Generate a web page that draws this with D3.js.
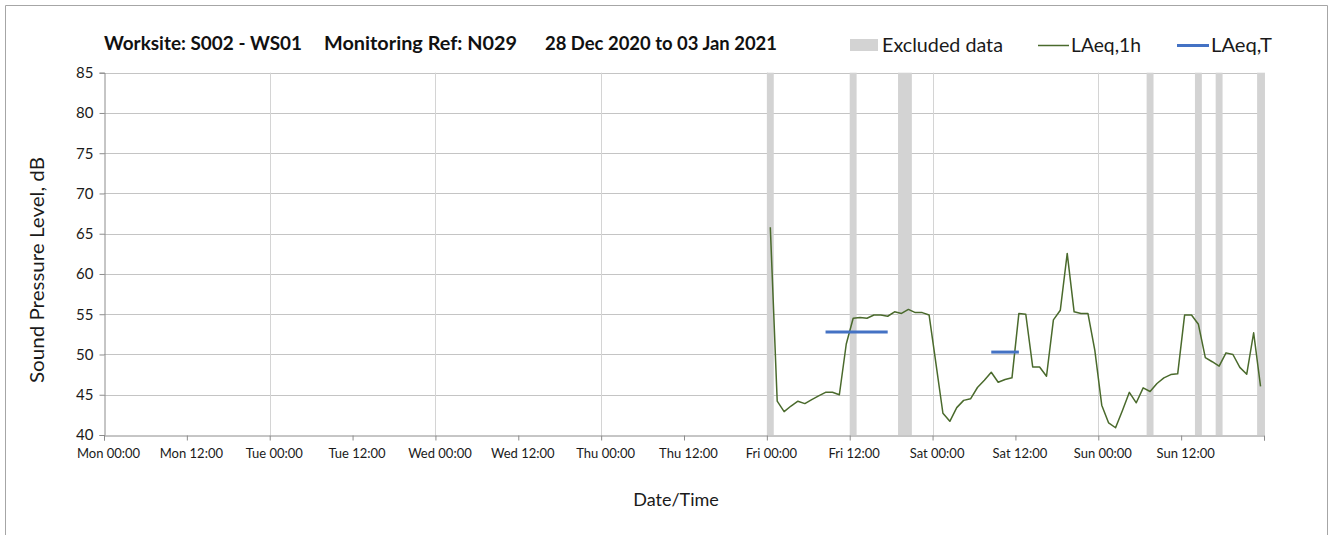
<!DOCTYPE html>
<html>
<head>
<meta charset="utf-8">
<script src="https://cdn.jsdelivr.net/npm/d3@7"></script>
<style>
  html, body { margin: 0; padding: 0; background: #fff; }
  svg { display: block; font-family: Lato, "Open Sans", sans-serif; }
</style>
</head>
<body>
<svg id="chart" width="1334" height="535"></svg>
<script>
// ---- Data ----
const titleParts = ["Worksite: S002 - WS01", "Monitoring Ref: N029", "28 Dec 2020 to 03 Jan 2021"];
const xTickLabels = ["Mon 00:00", "Mon 12:00", "Tue 00:00", "Tue 12:00", "Wed 00:00", "Wed 12:00",
                     "Thu 00:00", "Thu 12:00", "Fri 00:00", "Fri 12:00", "Sat 00:00", "Sat 12:00",
                     "Sun 00:00", "Sun 12:00"];
const yTicks = [40, 45, 50, 55, 60, 65, 70, 75, 80, 85];
const dayStarts = ["2021-01-01T00:00:00Z", "2021-01-02T00:00:00Z", "2021-01-03T00:00:00Z"];
// hourly LAeq,1h values (plotted at mid-hour), Fri / Sat / Sun
const friValues = [65.8, 44.2, 42.9, 43.6, 44.2, 43.9, 44.4, 44.85, 45.3, 45.3, 45.0, 51.3,
                   54.5, 54.6, 54.5, 54.9, 54.9, 54.75, 55.3, 55.1, 55.6, 55.2, 55.2, 54.9];
const satValues = [48.8, 42.7, 41.7, 43.4, 44.3, 44.5, 45.9, 46.8, 47.8, 46.55, 46.9, 47.1,
                   55.1, 55.0, 48.45, 48.45, 47.3, 54.3, 55.5, 62.55, 55.3, 55.1, 55.1, 50.5];
const sunValues = [43.7, 41.5, 40.9, 43.05, 45.3, 44.0, 45.85, 45.4, 46.4, 47.1, 47.5, 47.6,
                   54.9, 54.9, 53.75, 49.6, 49.1, 48.55, 50.2, 50.0, 48.4, 47.55, 52.7, 46.05];
// excluded data periods [start, end]
const excludedStarts = ["2021-01-01T00:00:00Z", "2021-01-01T12:00:00Z", "2021-01-01T19:00:00Z",
                        "2021-01-03T07:00:00Z", "2021-01-03T14:00:00Z", "2021-01-03T17:00:00Z",
                        "2021-01-03T23:00:00Z"];
const excludedEnds   = ["2021-01-01T01:00:00Z", "2021-01-01T13:00:00Z", "2021-01-01T21:00:00Z",
                        "2021-01-03T08:00:00Z", "2021-01-03T15:00:00Z", "2021-01-03T18:00:00Z",
                        "2021-01-04T00:00:00Z"];
// LAeq,T periods
const laeqTStarts = ["2021-01-01T08:30:00Z", "2021-01-02T08:30:00Z"];
const laeqTEnds   = ["2021-01-01T17:30:00Z", "2021-01-02T12:30:00Z"];
const laeqTValues = [52.8, 50.3];

// ---- Build ----
const svg = d3.select("#chart");
const W = 1334, H = 535;
const plot = { left: 104, right: 1264, top: 72.7, bottom: 435 };

const x = d3.scaleUtc()
  .domain([new Date("2020-12-28T00:00:00Z"), new Date("2021-01-04T00:00:00Z")])
  .range([plot.left, plot.right]);
const y = d3.scaleLinear().domain([40, 85]).range([plot.bottom, plot.top]);

const series = [];
[friValues, satValues, sunValues].forEach((vals, d) => {
  const start = new Date(dayStarts[d]);
  vals.forEach((v, i) => series.push({ t: d3.utcMinute.offset(d3.utcHour.offset(start, i), 30), v }));
});

// border
svg.append("path")
  .attr("d", `M5.5,${H} V5.5 H1327.5 V${H}`)
  .attr("fill", "none").attr("stroke", "#a6a6a6").attr("stroke-width", 1);

// gridlines horizontal
const grid = svg.append("g");
grid.selectAll("line.h").data(yTicks.filter(t => t > 40)).enter().append("line")
  .attr("x1", plot.left).attr("x2", plot.right)
  .attr("y1", d => Math.round(y(d)) + 0.5).attr("y2", d => Math.round(y(d)) + 0.5)
  .attr("stroke", "#c4c4c4").attr("stroke-width", 1);
// gridlines vertical (each day)
const dayTicks = d3.utcDay.range(new Date("2020-12-29T00:00:00Z"), new Date("2021-01-04T00:00:01Z"));
grid.selectAll("line.v").data(dayTicks).enter().append("line")
  .attr("x1", d => Math.round(x(d)) + 0.5).attr("x2", d => Math.round(x(d)) + 0.5)
  .attr("y1", plot.top).attr("y2", plot.bottom)
  .attr("stroke", "#d4d4d4").attr("stroke-width", 1);

// excluded bands
svg.append("g").selectAll("rect").data(excludedStarts.map((s, i) => [new Date(s), new Date(excludedEnds[i])]))
  .enter().append("rect")
  .attr("x", d => x(d[0])).attr("width", d => x(d[1]) - x(d[0]))
  .attr("y", plot.top).attr("height", plot.bottom - plot.top)
  .attr("fill", "#d3d3d3");

// y axis
const yAxis = d3.axisLeft(y).tickValues(yTicks).tickSize(5).tickPadding(6).tickFormat(d3.format("d"));
const gy = svg.append("g").attr("transform", `translate(${plot.left + 0.5},0)`).call(yAxis);
gy.select(".domain").attr("stroke", "#8c8c8c");
gy.selectAll(".tick line").attr("stroke", "#8c8c8c");
gy.selectAll(".tick text").attr("font-size", 15).attr("font-family", "Lato").attr("fill", "#1a1a1a");

// x axis
const xTickDates = d3.utcHour.every(12).range(new Date("2020-12-28T00:00:00Z"), new Date("2021-01-04T00:00:01Z"));
const xAxis = d3.axisBottom(x).tickValues(xTickDates).tickSize(5).tickPadding(8)
  .tickFormat((d, i) => xTickLabels[i] || "");
const gx = svg.append("g").attr("transform", `translate(0,${Math.round(plot.bottom) + 0.5})`).call(xAxis);
gx.select(".domain").attr("stroke", "#8c8c8c");
gx.selectAll(".tick line").attr("stroke", "#8c8c8c");
gx.selectAll(".tick text").attr("font-size", 13).attr("font-family", "Lato").attr("fill", "#1a1a1a")
  .attr("dx", 4);

// LAeq,1h line
svg.append("path").datum(series)
  .attr("d", d3.line().x(d => x(d.t)).y(d => y(d.v)))
  .attr("fill", "none").attr("stroke", "#4a6a2c").attr("stroke-width", 1.5)
  .attr("stroke-linejoin", "round");

// LAeq,T lines
svg.append("g").selectAll("line").data(laeqTValues.map((v, i) => ({ s: new Date(laeqTStarts[i]), e: new Date(laeqTEnds[i]), v })))
  .enter().append("line")
  .attr("x1", d => x(d.s)).attr("x2", d => x(d.e))
  .attr("y1", d => y(d.v)).attr("y2", d => y(d.v))
  .attr("stroke", "#4472c4").attr("stroke-width", 3);

// title
const titleX = [104, 324, 545], titleW = [198, 193, 232];
titleParts.forEach((t, i) => {
  svg.append("text").attr("x", titleX[i]).attr("y", 50)
    .attr("font-size", 18).attr("font-weight", "bold").attr("fill", "#111")
    .attr("textLength", titleW[i]).attr("lengthAdjust", "spacingAndGlyphs")
    .text(t);
});

// axis titles
svg.append("text").attr("transform", `translate(44,270) rotate(-90)`)
  .attr("text-anchor", "middle").attr("font-size", 19).attr("fill", "#1a1a1a")
  .attr("textLength", 226).attr("lengthAdjust", "spacingAndGlyphs")
  .text("Sound Pressure Level, dB");
svg.append("text").attr("x", 676).attr("y", 506)
  .attr("text-anchor", "middle").attr("font-size", 18).attr("fill", "#1a1a1a")
  .text("Date/Time");

// legend
const lg = svg.append("g").attr("font-size", 19).attr("fill", "#1a1a1a");
lg.append("rect").attr("x", 850).attr("y", 39).attr("width", 28).attr("height", 12).attr("fill", "#d3d3d3");
lg.append("text").attr("x", 882).attr("y", 52).attr("textLength", 121).attr("lengthAdjust", "spacingAndGlyphs").text("Excluded data");
lg.append("line").attr("x1", 1038).attr("x2", 1069).attr("y1", 45.5).attr("y2", 45.5)
  .attr("stroke", "#4a6a2c").attr("stroke-width", 1.5);
lg.append("text").attr("x", 1071).attr("y", 52).attr("textLength", 70).attr("lengthAdjust", "spacingAndGlyphs").text("LAeq,1h");
lg.append("line").attr("x1", 1177).attr("x2", 1209).attr("y1", 45.5).attr("y2", 45.5)
  .attr("stroke", "#4472c4").attr("stroke-width", 3);
lg.append("text").attr("x", 1211).attr("y", 52).attr("textLength", 61).attr("lengthAdjust", "spacingAndGlyphs").text("LAeq,T");
</script>
</body>
</html>
